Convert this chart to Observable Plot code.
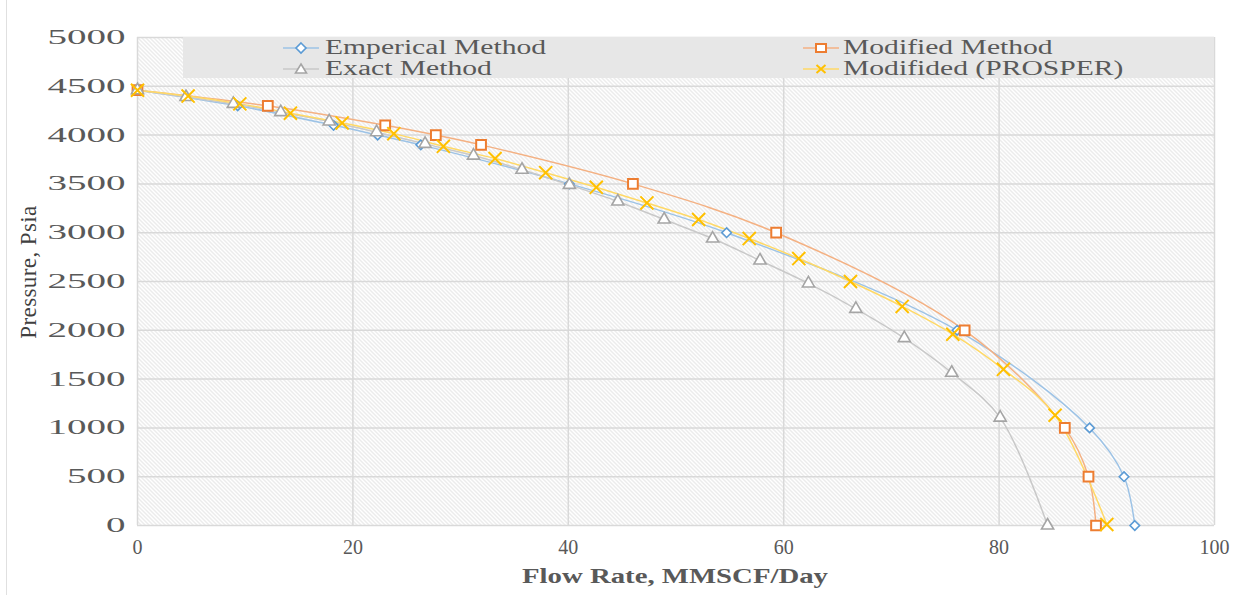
<!DOCTYPE html>
<html>
<head>
<meta charset="utf-8">
<script src="https://cdn.jsdelivr.net/npm/d3@7"></script>
<script src="https://cdn.jsdelivr.net/npm/@observablehq/plot@0.6"></script>
<style>
  body { margin: 0; background: #ffffff; }
  #wrap { position: relative; width: 1247px; height: 595px; overflow: hidden; background: #fff; }
  #wrap svg { position: absolute; left: 0; top: 0; }
  .ttl { position: absolute; white-space: nowrap; color: #595959; font-family: "Liberation Serif", serif; }
  #legend { position: absolute; left: 183px; top: 37px; width: 1031px; height: 41px; background: #e7e7e7; }
  .lg-text { position: absolute; white-space: nowrap; font-family: "Liberation Serif", serif; font-size: 20px; line-height: 20px; color: #595959; transform-origin: 0 50%; transform: scaleX(1.48); }
  #edge { position: absolute; left: 6px; top: 0; width: 1px; height: 595px; background: #e0e0e0; }
</style>
</head>
<body>
<div id="wrap"><div id="edge"></div></div>
<script>
// ---- data ----
const xTicks = [0, 20, 40, 60, 80, 100];
const yTicks = [0, 500, 1000, 1500, 2000, 2500, 3000, 3500, 4000, 4500, 5000];

// Emperical Method
const empRate     = [0, 9.3, 18.2, 22.3, 26.3, 40.1, 54.7, 76.1, 88.4, 91.6, 92.6];
const empPressure = [4460, 4300, 4100, 4000, 3900, 3500, 3000, 2000, 1000, 500, 0];
// Modified Method
const modRate     = [0, 12.1, 23.0, 27.7, 31.9, 46.0, 59.3, 76.8, 86.1, 88.3, 89.0];
const modPressure = [4460, 4300, 4100, 4000, 3900, 3500, 3000, 2000, 1000, 500, 0];
// Exact Method
const exactRate     = [0, 4.5, 8.9, 13.3, 17.8, 22.2, 26.7, 31.2, 35.7, 40.1, 44.6, 48.9, 53.4, 57.8, 62.3, 66.7, 71.2, 75.6, 80.1, 84.5];
const exactPressure = [4460, 4390, 4320, 4235, 4140, 4030, 3910, 3790, 3645, 3490, 3320, 3135, 2940, 2715, 2480, 2220, 1920, 1565, 1105, 0];
// Modifided (PROSPER)
const prosperRate     = [0, 4.7, 9.5, 14.2, 19.0, 23.8, 28.4, 33.2, 37.9, 42.6, 47.3, 52.1, 56.8, 61.4, 66.2, 71.0, 75.7, 80.4, 85.2, 90.0];
const prosperPressure = [4460, 4400, 4320, 4225, 4125, 4015, 3885, 3760, 3615, 3465, 3305, 3135, 2940, 2735, 2500, 2245, 1960, 1600, 1130, 10];

const seriesNames = ["Emperical Method", "Modified Method", "Exact Method", "Modifided (PROSPER)"];

// ---- build tables ----
const zip = (xs, ys) => xs.map((x, i) => ({rate: x, pressure: ys[i]}));
const emp = zip(empRate, empPressure);
const mod = zip(modRate, modPressure);
const exact = zip(exactRate, exactPressure);
const prosper = zip(prosperRate, prosperPressure);

const series = [
  {name: seriesNames[0], data: emp,     line: "#9dc3e6", mark: "#5b9bd5", symbol: "diamond2",  r: 4.3, sw: 1.6, fill: "white"},
  {name: seriesNames[1], data: mod,     line: "#f4b183", mark: "#ed7d31", symbol: "square2",   r: 6.2, sw: 2.0, fill: "white"},
  {name: seriesNames[2], data: exact,   line: "#c9c9c9", mark: "#a5a5a5", symbol: "triangle2", r: 5.8, sw: 1.6, fill: "white"},
  {name: seriesNames[3], data: prosper, line: "#ffd966", mark: "#ffc000", symbol: "times",     r: 6.0, sw: 2.0, fill: "none"}
];

const marks = [
  Plot.frame({fill: "url(#hatch)", stroke: null}),
  Plot.gridX(xTicks, {stroke: "#d9d9d9", strokeOpacity: 1, strokeWidth: 1.5}),
  Plot.gridY(yTicks, {stroke: "#d9d9d9", strokeOpacity: 1, strokeWidth: 1.5}),
  Plot.axisX(xTicks, {tickSize: 0, tickPadding: 14, fontSize: 20, fill: "#595959", fontFamily: "Liberation Serif", label: null}),
  Plot.axisY(yTicks, {tickSize: 0, tickPadding: 12, fontSize: 20, fill: "#595959", fontFamily: "Liberation Serif", label: null, tickFormat: d => String(d)})
];
for (const s of series) {
  marks.push(Plot.line(s.data, {x: "rate", y: "pressure", stroke: s.line, strokeWidth: 1.5, curve: "catmull-rom"}));
}
for (const s of series) {
  marks.push(Plot.dot(s.data, {x: "rate", y: "pressure", symbol: () => s.symbol, r: s.r, stroke: s.mark, strokeWidth: s.sw, fill: s.fill}));
}

const chart = Plot.plot({
  width: 1247,
  height: 595,
  marginLeft: 137,
  marginRight: 33,
  marginTop: 37,
  marginBottom: 70,
  x: {domain: [0, 100], label: null},
  y: {domain: [0, 5000], label: null},
  symbol: {type: "identity"},
  style: {background: "transparent", fontFamily: "Liberation Serif", color: "#595959"},
  marks
});

// hatch pattern for the plot-area background
const NS = "http://www.w3.org/2000/svg";
const defs = document.createElementNS(NS, "defs");
defs.innerHTML = '<pattern id="hatch" patternUnits="userSpaceOnUse" width="4" height="4">' +
  '<rect width="4" height="4" fill="#ffffff"/>' +
  '<path d="M0,0 L4,4 M-1,3 L1,5 M3,-1 L5,1" stroke="#d8d8d8" stroke-width="1"/></pattern>';
chart.insertBefore(defs, chart.firstChild);

// stretch y tick labels horizontally like the reference
function stretch(selector, sx) {
  chart.querySelectorAll(selector).forEach(t => {
    let tr = t.getAttribute("transform") || "";
    const x = t.getAttribute("x"), y = t.getAttribute("y");
    if (x !== null || (y !== null && !tr)) {
      tr = `translate(${x || 0},${y || 0}) ` + tr;
      t.removeAttribute("x"); t.removeAttribute("y");
    }
    t.setAttribute("transform", tr + ` scale(${sx},1)`);
  });
}
stretch('g[aria-label="y-axis tick label"] text', 1.95);

const wrap = document.getElementById("wrap");
wrap.appendChild(chart);

// axis titles
const xt = document.createElement("div");
xt.className = "ttl";
xt.textContent = "Flow Rate, MMSCF/Day";
xt.style.cssText = "left:675px;top:566px;font-size:21px;line-height:21px;font-weight:bold;transform:translateX(-50%) scaleX(1.37);";
wrap.appendChild(xt);

const yt = document.createElement("div");
yt.className = "ttl";
yt.textContent = "Pressure, Psia";
yt.style.cssText = "left:28px;top:272px;font-size:23px;line-height:23px;color:#404040;letter-spacing:0.4px;transform:translate(-50%,-50%) rotate(-90deg);";
wrap.appendChild(yt);

// legend
const legend = document.createElement("div");
legend.id = "legend";
wrap.appendChild(legend);
const symPath = {
  diamond2: "M0,-5 L5,0 L0,5 L-5,0 Z",
  square2: "M-5,-4 L5,-4 L5,4 L-5,4 Z",
  triangle2: "M0,-5 L5.5,4 L-5.5,4 Z",
  times: "M-4.5,-4 L4.5,4 M-4.5,4 L4.5,-4"
};
const legendPos = [
  {sx: 281, tx: 325, cy: 48},
  {sx: 801, tx: 843, cy: 48},
  {sx: 281, tx: 325, cy: 69},
  {sx: 801, tx: 843, cy: 69}
];
series.forEach((s, i) => {
  const p = legendPos[i];
  const sv = document.createElementNS(NS, "svg");
  sv.setAttribute("width", 40); sv.setAttribute("height", 20);
  sv.style.cssText = `position:absolute;left:${p.sx - 183}px;top:${p.cy - 10 - 37}px;overflow:visible`;
  sv.innerHTML = `<line x1="2" y1="10" x2="38" y2="10" stroke="${s.line}" stroke-width="1.5"/>` +
    `<path transform="translate(20,10)" d="${symPath[s.symbol]}" stroke="${s.mark}" stroke-width="${s.sw}" fill="${s.fill === 'none' ? 'none' : '#ffffff'}"/>`;
  legend.appendChild(sv);
  const tx = document.createElement("div");
  tx.className = "lg-text";
  tx.textContent = s.name;
  tx.style.left = (p.tx - 183) + "px";
  tx.style.top = (p.cy - 10 - 37 - 1) + "px";
  legend.appendChild(tx);
});
</script>
</body>
</html>
